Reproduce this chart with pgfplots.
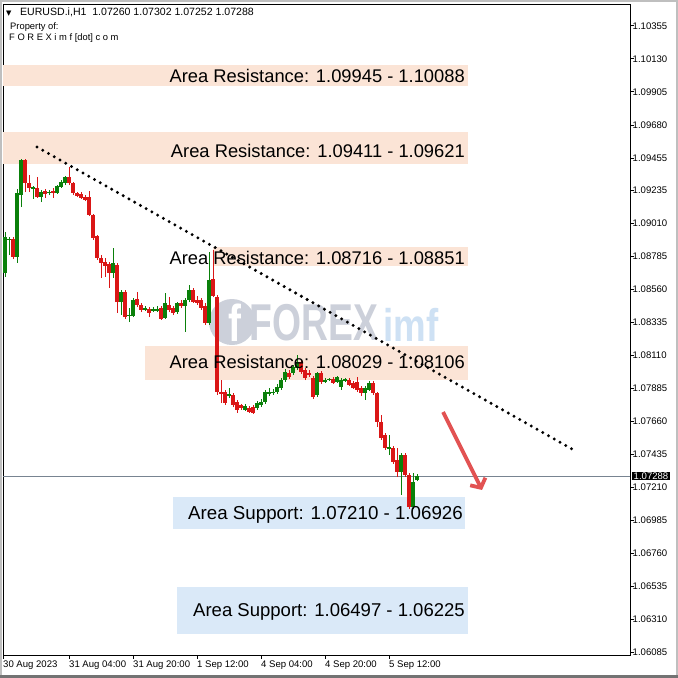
\documentclass[border=0pt]{standalone}
\usepackage{fontspec}
\setmainfont{Liberation Sans}
\newfontfamily\dejavu{DejaVu Sans}
\usepackage{pgfplots}
\pgfplotsset{compat=1.18}
\usepackage{pgfplotstable}
\usetikzlibrary{arrows.meta}
\definecolor{cgreen}{RGB}{10,128,10}
\definecolor{cred}{RGB}{218,22,22}
\definecolor{resfill}{RGB}{251,228,214}
\definecolor{supfill}{RGB}{218,233,248}
\definecolor{arrowred}{RGB}{226,82,82}
\definecolor{wmgray}{RGB}{204,208,218}
\definecolor{wmblue}{RGB}{206,225,244}
\definecolor{pricegray}{RGB}{120,132,145}

% green (bullish) candles: bar index, open, high, low, close
\pgfplotstableread{
x o h l c
0 1.08671 1.08950 1.08644 1.08916
1 1.08896 1.08916 1.08793 1.08902
3 1.08780 1.09243 1.08739 1.09216
4 1.09202 1.09447 1.09120 1.09440
7 1.09243 1.09263 1.09175 1.09257
9 1.09188 1.09236 1.09154 1.09222
11 1.09216 1.09236 1.09202 1.09222
13 1.09216 1.09270 1.09209 1.09263
14 1.09257 1.09304 1.09250 1.09291
15 1.09284 1.09331 1.09270 1.09325
27 1.08671 1.08841 1.08637 1.08739
29 1.08473 1.08555 1.08385 1.08542
31 1.08385 1.08433 1.08337 1.08387
32 1.08378 1.08501 1.08371 1.08487
35 1.08419 1.08446 1.08412 1.08433
37 1.08412 1.08439 1.08405 1.08426
38 1.08412 1.08446 1.08405 1.08426
40 1.08364 1.08535 1.08358 1.08467
43 1.08405 1.08473 1.08392 1.08467
45 1.08446 1.08501 1.08269 1.08487
46 1.08487 1.08589 1.08473 1.08555
51 1.08330 1.08814 1.08317 1.08623
56 1.07833 1.07888 1.07820 1.07847
60 1.07738 1.07779 1.07731 1.07765
63 1.07752 1.07799 1.07738 1.07786
64 1.07772 1.07813 1.07758 1.07792
65 1.07792 1.07874 1.07779 1.07861
66 1.07847 1.07888 1.07833 1.07861
67 1.07854 1.07881 1.07840 1.07861
68 1.07861 1.07915 1.07847 1.07895
69 1.07888 1.07956 1.07874 1.07942
70 1.07942 1.08017 1.07929 1.07997
72 1.07990 1.08044 1.07976 1.08031
73 1.08024 1.08112 1.08010 1.08065
78 1.07840 1.07997 1.07826 1.07990
80 1.07929 1.07956 1.07922 1.07942
81 1.07942 1.07956 1.07935 1.07949
83 1.07929 1.07969 1.07922 1.07963
84 1.07895 1.07956 1.07874 1.07942
85 1.07935 1.07956 1.07929 1.07949
90 1.07854 1.07901 1.07806 1.07888
91 1.07874 1.07935 1.07867 1.07922
96 1.07472 1.07568 1.07431 1.07486
99 1.07316 1.07445 1.07159 1.07431
102 1.07077 1.07309 1.07064 1.07248
103 1.07260 1.07302 1.07252 1.07288
}\greentab

% red (bearish) candles: bar index, open, high, low, close
\pgfplotstableread{
x o h l c
2 1.08902 1.08916 1.08766 1.08780
5 1.09440 1.09447 1.09222 1.09284
6 1.09284 1.09338 1.09222 1.09250
8 1.09250 1.09325 1.09182 1.09188
10 1.09229 1.09243 1.09182 1.09209
12 1.09229 1.09250 1.09182 1.09216
16 1.09325 1.09393 1.09270 1.09284
17 1.09284 1.09291 1.09202 1.09216
18 1.09216 1.09222 1.09188 1.09195
19 1.09209 1.09222 1.09175 1.09182
20 1.09188 1.09202 1.09161 1.09168
21 1.09188 1.09229 1.09059 1.09066
22 1.09066 1.09073 1.08896 1.08909
23 1.08923 1.08930 1.08759 1.08773
24 1.08773 1.08793 1.08637 1.08739
25 1.08746 1.08773 1.08644 1.08719
26 1.08732 1.08746 1.08569 1.08671
28 1.08725 1.08739 1.08399 1.08473
30 1.08542 1.08555 1.08358 1.08371
33 1.08494 1.08542 1.08439 1.08453
34 1.08453 1.08467 1.08405 1.08419
36 1.08426 1.08439 1.08371 1.08399
39 1.08433 1.08446 1.08351 1.08358
41 1.08453 1.08507 1.08405 1.08419
42 1.08433 1.08446 1.08385 1.08399
44 1.08467 1.08487 1.08433 1.08446
47 1.08555 1.08569 1.08467 1.08473
48 1.08487 1.08514 1.08453 1.08467
49 1.08487 1.08501 1.08419 1.08433
50 1.08446 1.08467 1.08317 1.08330
52 1.08630 1.08828 1.08507 1.08514
53 1.08507 1.08521 1.07840 1.07861
54 1.07861 1.07942 1.07786 1.07847
55 1.07861 1.07874 1.07772 1.07786
57 1.07840 1.07854 1.07758 1.07772
58 1.07792 1.07806 1.07718 1.07738
59 1.07772 1.07779 1.07738 1.07752
61 1.07752 1.07765 1.07718 1.07724
62 1.07758 1.07772 1.07711 1.07718
71 1.07990 1.08010 1.07949 1.07963
74 1.08065 1.08078 1.07983 1.07997
75 1.08010 1.08024 1.07942 1.07956
76 1.07990 1.08010 1.07963 1.07976
77 1.07956 1.07969 1.07813 1.07826
79 1.07990 1.08004 1.07915 1.07929
82 1.07949 1.07963 1.07915 1.07922
86 1.07942 1.07956 1.07901 1.07908
87 1.07922 1.07935 1.07881 1.07888
88 1.07929 1.07963 1.07861 1.07874
89 1.07888 1.07901 1.07833 1.07854
92 1.07922 1.07935 1.07840 1.07854
93 1.07854 1.07861 1.07622 1.07656
94 1.07656 1.07704 1.07534 1.07547
95 1.07568 1.07581 1.07466 1.07479
97 1.07479 1.07493 1.07370 1.07384
98 1.07397 1.07479 1.07282 1.07316
100 1.07431 1.07445 1.07282 1.07295
101 1.07295 1.07309 1.07064 1.07077
}\redtab

\begin{document}
\begin{tikzpicture}
\begin{scope}[shift={(-3bp,655bp)}, x=1bp, y=-1bp]
  \path[use as bounding box] (0,0) rectangle (678,678);
  \fill[white] (0,0) rectangle (678,678);
\end{scope}
\begin{axis}[
  at={(0,0)}, anchor=south west,
  scale only axis, width=627bp, height=651bp,
  xmin=-0.5, xmax=156.25, ymin=1.06069, ymax=1.10503,
  clip mode=individual,
  axis line style={black, line width=0.8bp},
  xtick pos=left, xticklabel pos=left,
  ytick pos=right, yticklabel pos=right,
  tick align=outside, major tick length=3.5bp,
  tick style={black, line width=0.6bp},
  xtick={-0.5,16,32,48,64,80,96},
  xticklabels={30 Aug 2023,31 Aug 04:00,31 Aug 20:00,1 Sep 12:00,4 Sep 04:00,4 Sep 20:00,5 Sep 12:00},
  ytick={1.10355,1.10130,1.09905,1.09680,1.09455,1.09235,1.09010,1.08785,1.08560,1.08335,1.08110,1.07885,1.07660,1.07435,1.07210,1.06985,1.06760,1.06535,1.06310,1.06085},
  yticklabels={1.10355,1.10130,1.09905,1.09680,1.09455,1.09235,1.09010,1.08785,1.08560,1.08335,1.08110,1.07885,1.07660,1.07435,1.07210,1.06985,1.06760,1.06535,1.06310,1.06085},
  ticklabel style={font=\fontsize{9.6}{11}\selectfont},
  xticklabel style={anchor=north west, inner sep=0pt, yshift=-2bp},
  yticklabel style={anchor=west, inner sep=0pt, xshift=-1bp},
]
% label backgrounds
\addplot[draw=none, fill=resfill] coordinates {(-0.5,1.09945) (115.75,1.09945) (115.75,1.10088) (-0.5,1.10088)} -- cycle;
\addplot[draw=none, fill=resfill] coordinates {(-0.5,1.09411) (115.75,1.09411) (115.75,1.09630) (-0.5,1.09630)} -- cycle;
\addplot[draw=none, fill=resfill] coordinates {(52,1.08716) (115.75,1.08716) (115.75,1.08851) (52,1.08851)} -- cycle;
\addplot[draw=none, fill=resfill] coordinates {(35,1.07942) (115.75,1.07942) (115.75,1.08174) (35,1.08174)} -- cycle;
\addplot[draw=none, fill=supfill] coordinates {(42,1.06928) (115,1.06928) (115,1.07145) (42,1.07145)} -- cycle;
\addplot[draw=none, fill=supfill] coordinates {(43,1.06212) (115.75,1.06212) (115.75,1.06533) (43,1.06533)} -- cycle;
% watermark
\node[circle, fill=wmgray, minimum size=46bp, inner sep=0pt] at (axis cs:56.75,1.08337) {};
\node[font=\fontsize{52}{52}\selectfont\bfseries, text=white, xscale=0.75] at (axis cs:57.5,1.08330) {f};
\node[font=\fontsize{52}{52}\selectfont\bfseries, text=wmgray, xscale=0.72] at (axis cs:77.25,1.08330) {FOREX};
\node[font=\fontsize{46}{46}\selectfont\bfseries, text=wmblue, xscale=0.8] at (axis cs:101.5,1.08320) {imf};
% current price line
\addplot[pricegray, line width=0.6bp] coordinates {(-0.5,1.07288) (156.25,1.07288)};
% candles: wicks and bodies
\addplot[draw=none, mark=none, error bars/.cd, y dir=plus, y explicit, error mark=none,
  error bar style={draw=cgreen, line width=1bp}]
  table[x=x, y=l, y error plus expr=\thisrow{h}-\thisrow{l}] {\greentab};
\addplot[draw=none, mark=none, error bars/.cd, y dir=plus, y explicit, error mark=none,
  error bar style={draw=cgreen, line width=3.2bp}]
  table[x=x, y=o, y error plus expr=\thisrow{c}-\thisrow{o}] {\greentab};
\addplot[draw=none, mark=none, error bars/.cd, y dir=plus, y explicit, error mark=none,
  error bar style={draw=cred, line width=1bp}]
  table[x=x, y=l, y error plus expr=\thisrow{h}-\thisrow{l}] {\redtab};
\addplot[draw=none, mark=none, error bars/.cd, y dir=plus, y explicit, error mark=none,
  error bar style={draw=cred, line width=3.2bp}]
  table[x=x, y=c, y error plus expr=\thisrow{o}-\thisrow{c}] {\redtab};
% trend line
\addplot[black, line width=3.3bp, line cap=round, dash pattern=on 0pt off 6.6bp] coordinates {(8,1.09529) (141.75,1.07472)};
% labels
\node[anchor=base east, inner sep=0pt, font=\fontsize{18.4}{22}\selectfont] at (axis cs:115,1.09967) {Area Resistance: 1.09945 - 1.10088};
\node[anchor=base east, inner sep=0pt, font=\fontsize{18.4}{22}\selectfont] at (axis cs:115,1.09456) {Area Resistance: 1.09411 - 1.09621};
\node[anchor=base east, inner sep=0pt, font=\fontsize{18.4}{22}\selectfont] at (axis cs:115,1.08727) {Area Resistance: 1.08716 - 1.08851};
\node[anchor=base east, inner sep=0pt, font=\fontsize{18.4}{22}\selectfont] at (axis cs:115,1.08019) {Area Resistance: 1.08029 - 1.08106};
\node[anchor=base east, inner sep=0pt, font=\fontsize{18.8}{22}\selectfont] at (axis cs:114.5,1.06991) {Area Support: 1.07210 - 1.06926};
\node[anchor=base east, inner sep=0pt, font=\fontsize{18.6}{22}\selectfont] at (axis cs:115,1.06330) {Area Support: 1.06497 - 1.06225};
% arrow
\addplot[arrowred, line width=3.8bp, -{Straight Barb[length=7bp, width=17bp]}] coordinates {(109.5,1.07724) (119.25,1.07193)};
\end{axis}
\begin{scope}[shift={(-3bp,655bp)}, x=1bp, y=-1bp]
  \draw[black!25, line width=2bp] (1,1) rectangle (677,677);
  \fill[black!55] (0,675) rectangle (678,678);
  \node[anchor=base west, inner sep=0pt, font=\dejavu\fontsize{7}{8}\selectfont] at (6,15.5) {▼};
  \node[anchor=base west, inner sep=0pt, font=\fontsize{10.6}{12}\selectfont] at (20,15.5) {EURUSD.i,H1\ \ 1.07260 1.07302 1.07252 1.07288};
  \node[anchor=base west, inner sep=0pt, font=\fontsize{9.4}{11}\selectfont] at (10,29.3) {Property of:};
  \node[anchor=base west, inner sep=0pt, font=\fontsize{9.4}{11}\selectfont] at (9,41) {F O R E X i m f [dot] c o m};
  \node[anchor=west, fill=black, text=white, inner xsep=1.5bp, inner ysep=1bp, font=\fontsize{9.6}{11}\selectfont] at (632,476) {1.07288};
\end{scope}
\end{tikzpicture}
\end{document}
